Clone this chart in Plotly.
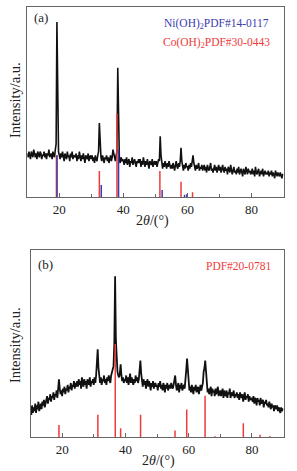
import numpy as np
import plotly.graph_objects as go

# 2theta grid (deg), 0.25 step
two_theta = [10 + 0.25 * i for i in range(321)]

# Panel (a) measured intensity (a.u.)
int_a = [
    23,21,24,22,20,24,23,21,25,22,21,23,20,24,22,21,24,23,20,22,
    22,24,21,23,20,23,22,25,21,22,23,20,24,22,21,25,28,92,35,24,
    22,20,23,21,24,21,19,23,22,20,24,21,22,19,23,21,24,20,22,21,
    21,23,19,22,20,24,21,19,22,20,23,21,18,22,21,20,23,19,21,22,
    20,22,19,21,18,22,20,19,22,24,39,26,21,19,22,20,18,21,20,22,
    19,21,18,20,22,19,21,25,23,20,19,22,24,68,30,20,18,21,19,20,
    19,17,20,18,21,17,19,20,16,19,18,21,17,19,20,18,16,19,18,20,
    18,20,16,19,17,21,18,16,19,17,20,18,15,19,18,17,20,16,18,19,
    17,19,16,18,20,19,32,22,17,15,18,16,19,17,15,18,16,19,17,15,
    17,15,18,16,14,17,19,16,15,18,16,19,26,19,16,14,17,15,18,16,
    16,14,17,15,18,16,19,22,18,15,14,17,15,16,18,14,16,15,17,14,
    15,17,14,16,13,17,15,14,16,18,14,15,13,16,17,14,16,13,15,17,
    14,16,13,15,17,14,13,16,14,15,12,16,14,13,17,15,12,14,16,13,
    14,12,15,13,16,12,14,15,13,11,15,14,12,16,13,12,15,13,14,12,
    13,15,12,14,11,16,13,12,14,15,11,13,14,12,15,11,13,14,12,13,
    12,14,11,13,12,14,11,13,12,10,14,12,11,13,12,11,13,12,10,12,
    12,
]

# Panel (b) measured intensity (a.u.)
int_b = [
    15,12,17,13,16,14,18,13,17,15,19,14,16,18,15,19,17,20,16,18,
    19,22,18,21,20,23,19,22,21,24,20,23,22,25,21,27,31,26,23,25,
    22,26,24,27,23,26,25,28,24,27,26,29,25,28,27,30,26,29,27,30,
    27,31,28,30,26,32,29,27,31,28,30,26,31,29,28,32,27,30,29,31,
    28,32,29,33,38,47,37,31,29,32,28,31,30,33,29,31,28,32,30,33,
    31,29,33,35,36,38,50,86,52,40,35,33,32,34,39,33,30,32,29,31,
    30,33,29,32,28,31,34,29,32,30,28,31,29,33,30,32,29,31,35,41,
    34,30,27,31,28,30,26,29,31,27,30,28,25,29,27,30,26,28,29,27,
    28,25,29,27,30,26,28,25,29,27,24,28,26,29,25,27,28,26,29,27,
    26,28,31,33,28,25,27,29,24,28,26,29,25,27,28,26,30,36,42,35,
    28,25,27,24,28,26,23,27,25,28,24,26,27,23,26,28,25,27,29,35,
    37,41,33,27,24,26,23,25,27,22,26,24,25,22,26,23,25,27,22,24,
    25,22,24,26,21,25,23,22,25,21,24,23,26,21,23,24,22,25,21,23,
    22,24,21,23,20,24,22,21,23,19,22,24,20,22,21,23,19,22,20,21,
    21,19,22,18,21,20,17,21,19,20,17,21,18,19,20,16,19,18,20,17,
    18,16,19,17,15,18,16,17,14,17,16,15,17,14,16,15,13,16,14,15,
    15,
]

# Reference patterns (stick positions / relative heights)
co_oh2_pos = [19.1, 32.5, 38.0, 51.4, 58.0, 61.6]
co_oh2_h = [22, 13.8, 44, 13.8, 8.2, 2.6]
ni_oh2_pos = [19.3, 33.1, 38.5, 52.1, 59.1, 59.8]
ni_oh2_h = [22, 6.4, 25, 3.8, 1.4, 1.6]
pdf20_pos = [19.0, 31.3, 36.8, 38.5, 44.8, 55.7, 59.4, 65.2, 68.3, 77.3, 82.6, 85.7]
pdf20_h = [6.6, 12.1, 49.8, 4.8, 12.1, 3.6, 14.8, 22.2, 0.6, 7.5, 1.4, 0.6]

tick_vals = [20, 40, 60, 80]


def sticks(pos, h):
    xs, ys = [], []
    for p, v in zip(pos, h):
        xs += [p, p, None]
        ys += [0, v, None]
    return xs, ys


RED = "#ee3b3b"
BLUE = "#3c3caf"
FONT = "Liberation Serif"

fig = go.Figure()
fig.add_trace(go.Scatter(x=two_theta, y=int_a, mode="lines",
                         line=dict(color="#111111", width=1.6), xaxis="x", yaxis="y"))
xs, ys = sticks(co_oh2_pos, co_oh2_h)
fig.add_trace(go.Scatter(x=xs, y=ys, mode="lines", line=dict(color=RED, width=1.5),
                         xaxis="x", yaxis="y"))
xs, ys = sticks(ni_oh2_pos, ni_oh2_h)
fig.add_trace(go.Scatter(x=xs, y=ys, mode="lines", line=dict(color=BLUE, width=1.5),
                         xaxis="x", yaxis="y"))

fig.add_trace(go.Scatter(x=two_theta, y=int_b, mode="lines",
                         line=dict(color="#111111", width=1.8), xaxis="x2", yaxis="y2"))
xs, ys = sticks(pdf20_pos, pdf20_h)
fig.add_trace(go.Scatter(x=xs, y=ys, mode="lines", line=dict(color=RED, width=1.5),
                         xaxis="x2", yaxis="y2"))

W, H = 297, 471


def fx(px):
    return px / W


def fy(py):
    return (H - py) / H


xax = dict(range=[10, 90], tickvals=tick_vals, ticks="inside", ticklen=4,
           tickcolor="#666", tickwidth=1,
           minor=dict(dtick=10, tick0=10, ticks="inside", ticklen=3, tickcolor="#666"),
           showline=True, linecolor="#666", linewidth=1.2, mirror=True,
           showgrid=False, zeroline=False,
           tickfont=dict(family=FONT, size=13, color="#222"))
yax = dict(range=[0, 100], showticklabels=False, ticks="", showline=True,
           linecolor="#666", linewidth=1.2, mirror=True, showgrid=False, zeroline=False)

fig.update_layout(
    width=W, height=H, margin=dict(l=0, r=0, t=0, b=0),
    paper_bgcolor="white", plot_bgcolor="white", showlegend=False,
    xaxis=dict(domain=[fx(27.3), fx(283.5)], anchor="y", **xax),
    yaxis=dict(domain=[fy(197.3), fy(6.7)], anchor="x", **yax),
    xaxis2=dict(domain=[fx(30.5), fx(283.5)], anchor="y2", **xax),
    yaxis2=dict(domain=[fy(437.3), fy(250)], anchor="x2", **yax),
)

ann = [
    dict(text="(a)", x=fx(32), y=fy(18), xanchor="left", font=dict(size=13, color="#222")),
    dict(text="Ni(OH)<sub>2</sub>PDF#14-0117", x=fx(216), y=fy(24), xanchor="center",
         font=dict(size=11.5, color=BLUE)),
    dict(text="Co(OH)<sub>2</sub>PDF#30-0443", x=fx(216), y=fy(43), xanchor="center",
         font=dict(size=11.5, color=RED)),
    dict(text="(b)", x=fx(36), y=fy(264), xanchor="left", font=dict(size=13, color="#222")),
    dict(text="PDF#20-0781", x=fx(238), y=fy(266), xanchor="center",
         font=dict(size=11.5, color=RED)),
    dict(text="Intensity/a.u.", x=fx(15), y=fy(100), textangle=-90, xanchor="center",
         font=dict(size=14.5, color="#222")),
    dict(text="Intensity/a.u.", x=fx(15), y=fy(345), textangle=-90, xanchor="center",
         font=dict(size=14.5, color="#222")),
    dict(text="2<i>θ</i>/(°)", x=fx(152), y=fy(221), xanchor="center",
         font=dict(size=14, color="#222")),
    dict(text="2<i>θ</i>/(°)", x=fx(158), y=fy(461), xanchor="center",
         font=dict(size=14, color="#222")),
]
for a in ann:
    a.update(xref="paper", yref="paper", showarrow=False, yanchor="middle")
    a["font"]["family"] = FONT
fig.update_layout(annotations=ann)

fig.write_html("out.html", config={"displayModeBar": False},
               post_script="document.body.style.margin='0';document.body.style.overflow='hidden';")
